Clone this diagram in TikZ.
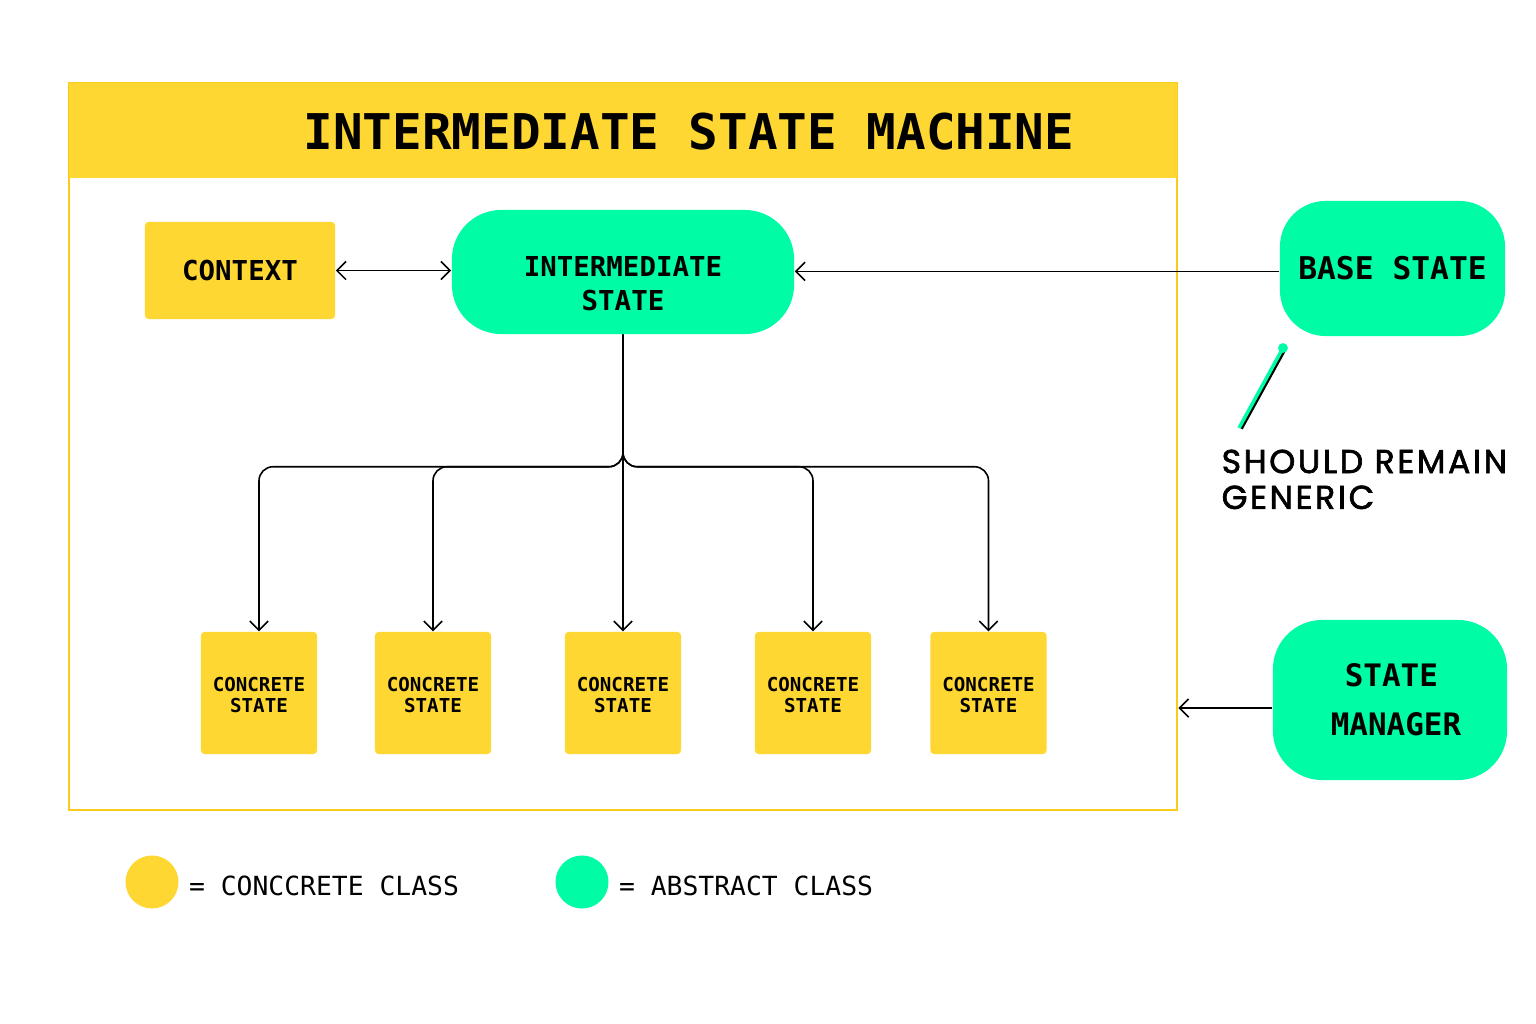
\documentclass[tikz,border=0pt]{standalone}
\usepackage{fontspec}
\setmonofont{DejaVu Sans Mono}
\newfontfamily\notefont[LetterSpace=8,FakeBold=2]{Poppins}
\usetikzlibrary{positioning,
        arrows.meta}
\definecolor{stateyellow}{HTML}{FFD733}
\definecolor{framegold}{HTML}{F9CB1C}
\definecolor{abstractgreen}{HTML}{00FCA4}

\begin{document}
\begin{tikzpicture}[x=0.01cm,y=-0.01cm,
        concrete/.style={rectangle,rounded corners=1pt,fill=stateyellow,inner sep=0pt,align=center},
        abstract/.style={rectangle,fill=abstractgreen,inner sep=0pt,align=center},
        flow/.style={-{Straight Barb[length=2.6pt,width=5.2pt]},line width=0.45pt},
        branch/.style={flow,rounded corners=4pt}]
            \useasboundingbox (0,0) rectangle (1536,1024);
            % frame of the machine
            \node [draw=framegold,line width=0.6pt,minimum width=11.08cm,minimum height=7.27cm,inner sep=0pt] (frame) at (623,446.5) {};
            \node [fill=stateyellow,minimum width=11.08cm,minimum height=0.95cm,inner sep=0pt] (header) at (623,130.5) {};
            \node [font=\ttfamily\bfseries\fontsize{14}{16}\selectfont] (title) at (689,132) {INTERMEDIATE STATE MACHINE};

            \node [concrete,minimum width=1.9cm,minimum height=0.97cm,font=\ttfamily\bfseries\fontsize{7.8}{9.6}\selectfont] (context) at (240,270.5) {CONTEXT};
            \node [abstract,rounded corners=14pt,minimum width=3.42cm,minimum height=1.24cm,font=\ttfamily\bfseries\fontsize{7.8}{9.6}\selectfont] (inter) at (623,272) {\rule{0pt}{12.5pt}INTERMEDIATE\\STATE};
            \node [abstract,rounded corners=13pt,minimum width=2.25cm,minimum height=1.35cm,font=\ttfamily\bfseries\fontsize{8.9}{10}\selectfont] (base) at (1392.5,268.5) {BASE STATE};
            \node [abstract,rounded corners=14pt,minimum width=2.34cm,minimum height=1.6cm,font=\ttfamily\bfseries\fontsize{8.8}{13.9}\selectfont] (manager) at (1390,700) {STATE\hspace*{-0.8pt}\\\hspace*{3.4pt}MANAGER};
            \foreach \n/\x in {1/259,2/433,3/623,4/813,5/988.5}
                \node [concrete,minimum width=1.16cm,minimum height=1.22cm,font=\ttfamily\bfseries\fontsize{5.45}{6}\selectfont] (cs\n) at (\x,693) {\rule{0pt}{5.4pt}CONCRETE\\STATE};

            % note on the base state
            \coordinate (pintop) at (1283,348);
            \coordinate (pinfoot) at (1239,428);
            \node [anchor=north west,align=left,inner sep=0pt,font=\notefont\fontsize{9.4}{10.2}\selectfont] (note) at (1221,449) {SHOULD REMAIN\\GENERIC};

            % legend
            \node [circle,fill=stateyellow,minimum size=0.53cm,inner sep=0pt] (keyconcrete) at (152,882) {};
            \node [right=2.6pt of keyconcrete,yshift=-1pt,inner sep=0pt,font=\ttfamily\fontsize{7.5}{9}\selectfont] (keyconcretetext) {= CONCCRETE CLASS};
            \node [circle,fill=abstractgreen,minimum size=0.53cm,inner sep=0pt] (keyabstract) at (582,882) {};
            \node [right=2.6pt of keyabstract,yshift=-1pt,inner sep=0pt,font=\ttfamily\fontsize{7.5}{9}\selectfont] (keyabstracttext) {= ABSTRACT CLASS};

            \draw [{Straight Barb[length=2.6pt,width=5.2pt]}-{Straight Barb[length=2.6pt,width=5.2pt]},line width=0.45pt] (context.east) -- (context.east -| inter.west);
            \draw [flow] ([yshift=-0.8pt]base.west) -- ([yshift=-0.8pt]base.west -| inter.east);
            \draw [flow] ([yshift=-2.3pt]manager.west) -- ([yshift=-2.3pt]manager.west -| frame.east);
            \foreach \n in {1,2,4,5}
                \draw [branch] (inter.south) -- ++(0,132) -| (cs\n.north);
            \draw [flow] (inter.south) -- (cs3.north);
            \draw [line width=0.8pt] ([xshift=0.7pt,yshift=-0.2pt]pintop) -- ([xshift=0.7pt,yshift=-0.2pt]pinfoot);
            \draw [abstractgreen,line width=1pt] (pintop) -- (pinfoot);
            \fill [abstractgreen] (pintop) circle (1.4pt);
        \end{tikzpicture}
\end{document}
